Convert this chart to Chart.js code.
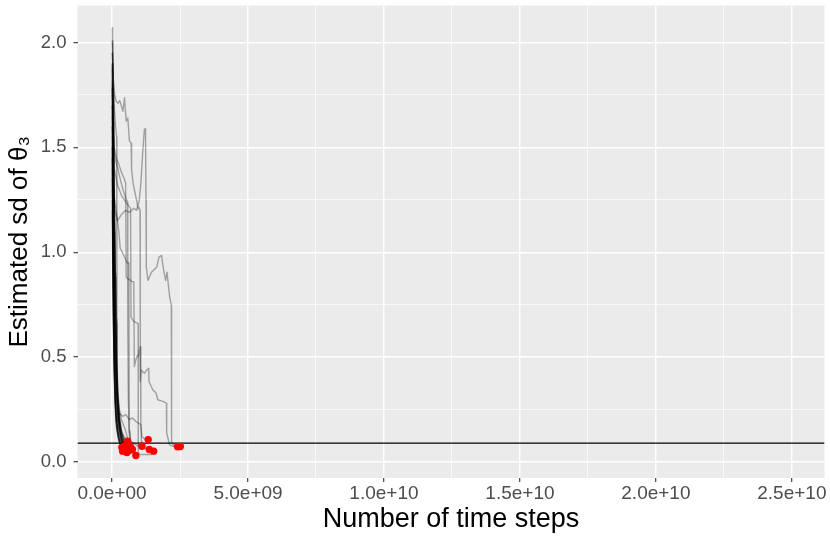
<!DOCTYPE html>
<html>
<head>
<meta charset="utf-8">
<script src="https://cdn.jsdelivr.net/npm/chart.js@4.4.1/dist/chart.umd.min.js"></script>
<style>
html,body{margin:0;padding:0;background:#ffffff;}
#wrap{width:830px;height:541px;position:relative;}
</style>
</head>
<body>
<div id="wrap"><canvas id="c" width="830" height="541"></canvas></div>
<script>
// x values are in billions of time steps, y values are the estimated sd
const STEP_UNIT = 1e9;

// long, visible trajectories
const trajA = [[0.01,1.95],[0.05,1.82],[0.1,1.75],[0.15,1.72],[0.22,1.71],[0.28,1.723],[0.34,1.70],[0.4,1.672],[0.46,1.736],[0.52,1.625],[0.58,1.64],[0.64,1.53],[0.7,1.52],[0.72,1.39],[0.78,1.325],[0.85,1.28],[0.9,1.25],[0.94,1.222],[0.97,1.206],[1.0,1.214],[1.03,1.198],[1.04,0.384],[1.07,0.439],[1.19,0.423],[1.28,0.439],[1.35,0.447],[1.36,0.384],[1.44,0.36],[1.5,0.344],[1.62,0.329],[1.68,0.297],[1.87,0.289],[2.0,0.281],[2.01,0.139],[2.11,0.083],[2.24,0.075],[2.41,0.073]];
const trajB = [[0.01,1.8],[0.03,1.5],[0.06,1.3],[0.1,1.2],[0.2,1.15],[0.35,1.18],[0.5,1.2],[0.65,1.19],[0.8,1.21],[0.9,1.2],[1.0,1.245],[1.06,1.33],[1.13,1.48],[1.19,1.585],[1.23,1.59],[1.25,1.245],[1.26,0.93],[1.32,0.866],[1.45,0.905],[1.64,0.929],[1.73,0.977],[1.82,0.985],[1.88,0.929],[1.97,0.866],[2.02,0.905],[2.12,0.786],[2.18,0.747],[2.19,0.092],[2.3,0.076],[2.51,0.074]];
const trajC = [[0.01,1.9],[0.03,1.62],[0.08,1.5],[0.15,1.45],[0.25,1.42],[0.35,1.38],[0.45,1.35],[0.5,1.33],[0.52,0.88],[0.58,0.874],[0.65,0.87],[0.72,0.86],[0.8,0.86],[0.82,0.455],[0.88,0.49],[0.94,0.51],[0.97,0.5],[1.0,0.53],[1.04,0.55],[1.06,0.188],[1.08,0.1],[1.1,0.075]];
const trajG = [[0.01,1.6],[0.03,1.1],[0.06,0.65],[0.1,0.35],[0.15,0.19],[0.2,0.2],[0.26,0.234],[0.39,0.218],[0.51,0.226],[0.63,0.202],[0.75,0.21],[0.875,0.194],[1.06,0.178],[1.1,0.12],[1.2,0.11],[1.33,0.107]];
const trajF = [[0.01,2.0],[0.04,1.85],[0.08,1.7],[0.13,1.6],[0.17,1.55],[0.18,0.3],[0.25,0.15],[0.35,0.09],[0.47,0.072]];
const trajH = [[0.01,1.7],[0.03,1.5],[0.08,1.4],[0.2,1.32],[0.35,1.27],[0.5,1.24],[0.68,1.21],[0.7,0.69],[0.8,0.67],[0.96,0.66],[0.965,0.05],[1.0,0.036],[1.45,0.036],[1.53,0.052]];
const trajI = [[0.01,1.5],[0.03,1.35],[0.07,1.28],[0.15,1.2],[0.25,1.1],[0.3,1.02],[0.45,0.98],[0.55,0.95],[0.62,0.95],[0.63,0.15],[0.7,0.1],[0.9,0.08],[1.1,0.07],[1.37,0.06]];
const trajJ = [[0.01,1.45],[0.03,1.1],[0.06,0.75],[0.1,0.5],[0.2,0.3],[0.35,0.2],[0.5,0.15],[0.6,0.1],[0.7,0.06],[0.8,0.04],[0.875,0.031]];
const trajK = [[0.01,1.78],[0.04,1.55],[0.1,1.45],[0.21,1.4],[0.3,1.35],[0.4,1.3],[0.5,1.26],[0.57,1.24],[0.58,0.64],[0.6,0.3],[0.63,0.15],[0.66,0.09],[0.69,0.068]];

// dense bundle of fast-converging trajectories
const bund01 = [[0.01,2.07],[0.02,1.95],[0.04,1.7],[0.06,1.4],[0.08,1.1],[0.1,0.85],[0.13,0.6],[0.16,0.42],[0.2,0.3],[0.26,0.2],[0.34,0.15],[0.45,0.12],[0.57,0.099]];
const bund02 = [[0.01,2.01],[0.03,1.98],[0.05,1.75],[0.07,1.45],[0.09,1.15],[0.11,0.88],[0.14,0.62],[0.17,0.42],[0.21,0.28],[0.27,0.17],[0.35,0.11],[0.45,0.068]];
const bund03 = [[0.01,1.88],[0.02,1.6],[0.03,1.3],[0.05,1.0],[0.07,0.75],[0.09,0.52],[0.12,0.35],[0.16,0.22],[0.22,0.14],[0.3,0.09],[0.39,0.052]];
const bund04 = [[0.01,1.82],[0.04,1.62],[0.07,1.35],[0.1,1.05],[0.13,0.78],[0.16,0.55],[0.19,0.38],[0.23,0.25],[0.3,0.15],[0.4,0.08],[0.51,0.049]];
const bund05 = [[0.01,1.75],[0.03,1.72],[0.06,1.5],[0.09,1.2],[0.12,0.92],[0.15,0.68],[0.18,0.48],[0.22,0.33],[0.28,0.21],[0.36,0.13],[0.47,0.085],[0.63,0.055]];
const bund06 = [[0.01,1.7],[0.04,1.5],[0.08,1.2],[0.12,0.9],[0.15,0.66],[0.18,0.46],[0.22,0.32],[0.28,0.21],[0.36,0.14],[0.48,0.1],[0.6,0.075],[0.75,0.06]];
const bund07 = [[0.01,1.65],[0.03,1.4],[0.05,1.1],[0.07,0.82],[0.1,0.58],[0.13,0.4],[0.17,0.27],[0.23,0.17],[0.32,0.11],[0.5,0.072]];
const bund08 = [[0.01,1.6],[0.05,1.42],[0.09,1.15],[0.12,0.9],[0.14,0.68],[0.17,0.48],[0.2,0.33],[0.25,0.22],[0.32,0.14],[0.44,0.09],[0.57,0.068]];
const bund09 = [[0.01,1.55],[0.02,1.3],[0.04,1.0],[0.06,0.72],[0.08,0.5],[0.11,0.34],[0.15,0.22],[0.21,0.14],[0.3,0.09],[0.42,0.06]];
const bund10 = [[0.01,1.5],[0.04,1.3],[0.07,1.05],[0.1,0.8],[0.13,0.58],[0.16,0.4],[0.2,0.27],[0.26,0.17],[0.34,0.1],[0.48,0.058]];
const bund11 = [[0.01,1.45],[0.03,1.2],[0.06,0.95],[0.09,0.72],[0.12,0.52],[0.16,0.36],[0.21,0.24],[0.28,0.16],[0.38,0.1],[0.6,0.062]];
const bund12 = [[0.01,1.4],[0.02,1.15],[0.04,0.88],[0.06,0.64],[0.09,0.45],[0.12,0.3],[0.17,0.19],[0.24,0.12],[0.34,0.075],[0.55,0.045]];
const bund13 = [[0.01,1.35],[0.04,1.15],[0.08,0.92],[0.12,0.7],[0.15,0.5],[0.19,0.35],[0.24,0.24],[0.31,0.16],[0.42,0.11],[0.66,0.075]];
const bund14 = [[0.01,1.3],[0.02,1.05],[0.04,0.8],[0.06,0.58],[0.09,0.4],[0.13,0.26],[0.18,0.16],[0.26,0.1],[0.36,0.07]];
const bund15 = [[0.01,1.95],[0.02,1.85],[0.04,1.55],[0.06,1.2],[0.08,0.9],[0.1,0.65],[0.13,0.45],[0.17,0.3],[0.23,0.19],[0.32,0.12],[0.52,0.065]];
const bund16 = [[0.01,1.25],[0.03,1.0],[0.06,0.78],[0.1,0.58],[0.14,0.42],[0.19,0.29],[0.25,0.2],[0.33,0.14],[0.45,0.095],[0.62,0.07]];
const bund17 = [[0.01,1.2],[0.02,0.95],[0.04,0.72],[0.07,0.52],[0.1,0.36],[0.14,0.24],[0.2,0.16],[0.28,0.11],[0.44,0.075]];
const bund18 = [[0.01,1.9],[0.02,1.78],[0.03,1.5],[0.04,1.2],[0.05,0.9],[0.07,0.6],[0.09,0.4],[0.12,0.26],[0.17,0.16],[0.25,0.1],[0.4,0.065]];
const bund19 = [[0.01,1.78],[0.02,1.55],[0.03,1.2],[0.04,0.9],[0.06,0.62],[0.08,0.42],[0.11,0.28],[0.15,0.18],[0.22,0.12],[0.3,0.085],[0.46,0.062]];

const trajectories = [trajA, trajB, trajC, trajG, trajF, trajH, trajI, trajJ, trajK,
  bund01, bund02, bund03, bund04, bund05, bund06, bund07, bund08, bund09, bund10,
  bund11, bund12, bund13, bund14, bund15, bund16, bund17, bund18, bund19];

// reference (true) value line
const referenceSd = 0.09;

// axes
const xMajorTicks = [0, 5e9, 1e10, 1.5e10, 2e10, 2.5e10];
const xTickLabels = ['0.0e+00', '5.0e+09', '1.0e+10', '1.5e+10', '2.0e+10', '2.5e+10'];
const xMinorTicks = [2.5e9, 7.5e9, 1.25e10, 1.75e10, 2.25e10];
const yMajorTicks = [0, 0.5, 1, 1.5, 2];
const yTickLabels = ['0.0', '0.5', '1.0', '1.5', '2.0'];
const yMinorTicks = [0.25, 0.75, 1.25, 1.75];
const xLimits = [-1.27e9, 2.62e10];
const yLimits = [-0.076, 2.176];

const xTitle = 'Number of time steps';
const yTitle = 'Estimated sd of θ₃';

// ---- build datasets ----
const toPts = t => t.map(([x, y]) => ({x: x * STEP_UNIT, y: y}));
const datasets = [];
trajectories.forEach(t => {
  datasets.push({
    type: 'scatter', showLine: true, data: toPts(t),
    borderColor: 'rgba(0,0,0,0.32)', borderWidth: 1.4, borderJoinStyle: 'round',
    pointRadius: 0, pointHoverRadius: 0, tension: 0, fill: false, order: 3
  });
});
datasets.push({
  type: 'scatter', showLine: true,
  data: [{x: xLimits[0], y: referenceSd}, {x: xLimits[1], y: referenceSd}],
  borderColor: '#000000', borderWidth: 1.3, pointRadius: 0, order: 2
});
datasets.push({
  type: 'scatter', showLine: false,
  data: trajectories.map(t => { const p = t[t.length - 1]; return {x: p[0] * STEP_UNIT, y: p[1]}; }),
  backgroundColor: '#FF0000', borderWidth: 0, pointRadius: 3.7, order: 1
});

const isMajor = (arr, v) => arr.some(m => Math.abs(m - v) < 1e-6 * Math.max(1, Math.abs(m)));
const FONT = '"Liberation Sans", Arial, Helvetica, sans-serif';

const panelBg = {
  id: 'panelBg',
  beforeDraw(chart) {
    const {ctx, chartArea: a} = chart;
    ctx.save();
    ctx.fillStyle = '#ffffff';
    ctx.fillRect(0, 0, chart.width, chart.height);
    ctx.fillStyle = '#EBEBEB';
    ctx.fillRect(a.left, a.top, a.right - a.left, a.bottom - a.top);
    ctx.restore();
  }
};

new Chart(document.getElementById('c'), {
  type: 'scatter',
  data: {datasets},
  options: {
    responsive: false,
    animation: false,
    devicePixelRatio: 1,
    layout: {padding: {top: 5.5, right: 5.5, left: 0, bottom: 0}},
    plugins: {legend: {display: false}, tooltip: {enabled: false}},
    scales: {
      x: {
        type: 'linear', min: xLimits[0], max: xLimits[1],
        afterBuildTicks: ax => { ax.ticks = xMajorTicks.concat(xMinorTicks).sort((a, b) => a - b).map(v => ({value: v})); },
        afterFit: s => { s.height = 63; s.paddingLeft = 0; s.paddingRight = 0; },
        border: {display: false},
        grid: {
          color: '#FFFFFF',
          lineWidth: c => (c.tick && isMajor(xMajorTicks, c.tick.value)) ? 1.4 : 0.7,
          tickColor: c => (c.tick && isMajor(xMajorTicks, c.tick.value)) ? '#333333' : 'rgba(0,0,0,0)',
          tickWidth: 1.1, tickLength: 4, drawTicks: true
        },
        ticks: {
          autoSkip: false, maxRotation: 0, minRotation: 0, padding: 0,
          color: '#4D4D4D', font: {family: FONT, size: 19},
          callback: v => { const i = xMajorTicks.findIndex(m => Math.abs(m - v) < 1); return i >= 0 ? xTickLabels[i] : ''; }
        },
        title: {display: true, text: xTitle, color: '#000000', font: {family: FONT, size: 27}, padding: {top: 0, bottom: 5}}
      },
      y: {
        type: 'linear', min: yLimits[0], max: yLimits[1],
        afterBuildTicks: ax => { ax.ticks = yMajorTicks.concat(yMinorTicks).sort((a, b) => a - b).map(v => ({value: v})); },
        afterFit: s => { s.width = 77.5; s.paddingTop = 0; s.paddingBottom = 0; },
        border: {display: false},
        grid: {
          color: '#FFFFFF',
          lineWidth: c => (c.tick && isMajor(yMajorTicks, c.tick.value)) ? 1.4 : 0.7,
          tickColor: c => (c.tick && isMajor(yMajorTicks, c.tick.value)) ? '#333333' : 'rgba(0,0,0,0)',
          tickWidth: 1.1, tickLength: 4, drawTicks: true
        },
        ticks: {
          autoSkip: false, padding: 7,
          color: '#4D4D4D', font: {family: FONT, size: 18.5},
          callback: v => { const i = yMajorTicks.findIndex(m => Math.abs(m - v) < 1e-6); return i >= 0 ? yTickLabels[i] : ''; }
        },
        title: {display: true, text: yTitle, color: '#000000', font: {family: FONT, size: 26}, padding: {top: 4, bottom: 0}}
      }
    }
  },
  plugins: [panelBg]
});
</script>
</body>
</html>
